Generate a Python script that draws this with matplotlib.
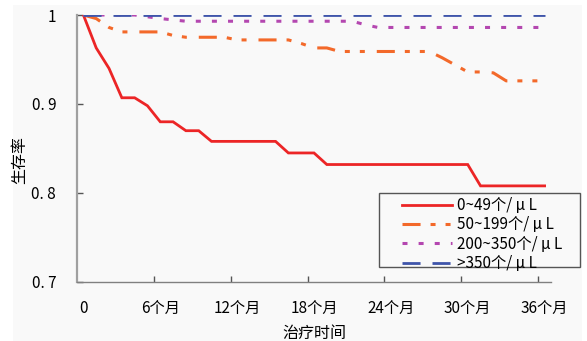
import matplotlib
matplotlib.use("Agg")
import matplotlib.pyplot as plt
from matplotlib.patches import Rectangle
import numpy as np

plt.rcParams['font.family'] = ['Noto Sans CJK SC', 'DejaVu Sans']
plt.rcParams['lines.scale_dashes'] = False

months = list(range(0, 37))
red_0_49 = [1.0, 0.963, 0.940, 0.907, 0.907, 0.898, 0.880, 0.880, 0.870, 0.870,
            0.858, 0.858, 0.858, 0.858, 0.858, 0.858, 0.845, 0.845, 0.845,
            0.832, 0.832, 0.832, 0.832, 0.832, 0.832, 0.832, 0.832, 0.832, 0.832, 0.832, 0.832,
            0.808, 0.808, 0.808, 0.808, 0.808, 0.808]
orange_50_199 = [1.0, 0.996, 0.986, 0.981, 0.981, 0.981, 0.981, 0.977, 0.975, 0.975,
                 0.975, 0.975, 0.972, 0.972, 0.972, 0.972, 0.972, 0.968, 0.963,
                 0.963, 0.959, 0.959, 0.959, 0.959, 0.959, 0.959, 0.959, 0.959, 0.952, 0.944, 0.936,
                 0.936, 0.935, 0.926, 0.926, 0.926, 0.926]
purple_200_350 = [1.0, 1.0, 1.0, 1.0, 1.0, 0.998, 0.996, 0.9945, 0.993, 0.993,
                  0.993, 0.993, 0.993, 0.993, 0.993, 0.993, 0.993, 0.993, 0.993,
                  0.993, 0.993, 0.993, 0.989, 0.986, 0.986, 0.986, 0.986, 0.986, 0.986, 0.986, 0.986,
                  0.986, 0.986, 0.986, 0.986, 0.986, 0.986]
blue_350 = [1.0] * 37

labels = ["0~49个/ μ L", "50~199个/ μ L", "200~350个/ μ L", ">350个/ μ L"]
xtick_labels = ["0", "6个月", "12个月", "18个月", "24个月", "30个月", "36个月"]
xtick_pos = [0, 6, 12, 18, 24, 30, 36]
yticks = [0.7, 0.8, 0.9, 1.0]
ytick_labels = ["0. 7", "0. 8", "0. 9", "1"]

W, H = 587, 341
fig = plt.figure(figsize=(W / 100, H / 100), dpi=100)
fig.patch.set_facecolor('white')
fig.patches.append(Rectangle((13 / W, 0), (582 - 13) / W, 1 - 5 / H,
                             transform=fig.transFigure, facecolor='#f9f9f9',
                             edgecolor='none', zorder=-10))

ax = fig.add_axes([77 / W, 1 - 282 / H, (551 - 77) / W, (282 - 15) / H])
ax.set_facecolor('none')

l1, = ax.plot(months, red_0_49, color='#ec2526', lw=2.0, solid_joinstyle='miter')
l2, = ax.plot(months, orange_50_199, color='#f3692a', lw=2.2,
              linestyle=(0, (13, 7.2, 3.6, 7.2, 3.6, 8.6)), dash_capstyle='butt')
l3, = ax.plot(months, purple_200_350, color='#b447b0', lw=2.2,
              linestyle=(0, (3.6, 8.0)), dash_capstyle='butt')
l4, = ax.plot(months, blue_350, color='#3f55aa', lw=2.0,
              linestyle=(0, (13, 8.6)), dash_capstyle='butt')

ax.set_xlim(-0.5, 36.5)
ax.set_ylim(0.7, 1.0)

for s in ['top', 'right']:
    ax.spines[s].set_visible(False)
ax.spines['left'].set_color('#a0a0a0')
ax.spines['left'].set_linewidth(1.6)
ax.spines['bottom'].set_color('#808080')
ax.spines['bottom'].set_linewidth(1.0)

ax.set_yticks(yticks)
ax.set_yticklabels(ytick_labels, fontsize=11)
ax.tick_params(axis='y', direction='in', length=4, width=1, color='#555555', pad=15)

ax.set_xticks([p + 5.5 for p in range(0, 36, 6)])
ax.set_xticklabels([])
ax.tick_params(axis='x', which='major', direction='in', length=4, width=1, color='#555555')
ax.set_xticks(xtick_pos, minor=True)
ax.set_xticklabels(xtick_labels, minor=True, fontsize=11)
ax.tick_params(axis='x', which='minor', length=0, pad=13)

ax.set_xlabel("治疗时间", fontsize=11.5)
ax.xaxis.label.set_va('center')
ax.xaxis.set_label_coords(0.5, (282 - 333) / 267)
ax.set_ylabel("生存率", fontsize=11.5)
ax.yaxis.label.set_va('center')
ax.yaxis.set_label_coords((20 - 77) / 474, (282 - 160) / 267)

fig.patches.append(Rectangle((379 / W, 1 - 267 / H), (580 - 379) / W, (267 - 193) / H,
                             transform=fig.transFigure, facecolor='#f9f9f9',
                             edgecolor='#555555', lw=1.0, zorder=5))
leg = fig.legend([l1, l2, l3, l4], labels, loc='upper left',
                 bbox_to_anchor=(402 / W, 1 - 197 / H), bbox_transform=fig.transFigure,
                 frameon=False, fontsize=11, handlelength=3.3, handletextpad=0.3,
                 labelspacing=0.15, borderpad=0, borderaxespad=0)
leg.set_zorder(6)

fig.savefig("out.png", dpi=100)
